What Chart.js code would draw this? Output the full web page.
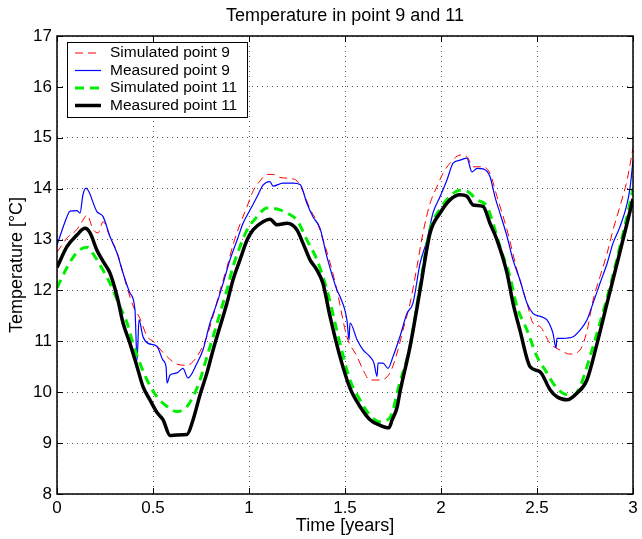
<!DOCTYPE html>
<html>
<head>
<meta charset="UTF-8">
<title>Temperature in point 9 and 11</title>
<script src="https://cdn.jsdelivr.net/npm/chart.js"></script>
<style>
  body { margin: 0; background: #fff; }
  canvas { display: block; }
</style>
</head>
<body>
<canvas id="tempChart" width="642" height="539"></canvas>
<script>
    // values (time in years, temperature in °C)
    const sim9T = [0.0, 0.052, 0.104, 0.135, 0.156, 0.188, 0.214, 0.240, 0.276, 0.313, 0.354, 0.396, 0.432, 0.469, 0.5, 0.536, 0.573, 0.625, 0.677, 0.708, 0.745, 0.781, 0.813, 0.849, 0.885, 0.917, 0.953, 0.990, 1.021, 1.057, 1.094, 1.125, 1.161, 1.214, 1.25, 1.281, 1.318, 1.354, 1.385, 1.422, 1.458, 1.510, 1.563, 1.594, 1.630, 1.682, 1.734, 1.771, 1.802, 1.839, 1.875, 1.906, 1.943, 1.979, 2.010, 2.047, 2.099, 2.135, 2.167, 2.219, 2.255, 2.292, 2.344, 2.396, 2.448, 2.479, 2.516, 2.568, 2.620, 2.672, 2.724, 2.760, 2.792, 2.828, 2.865, 2.896, 2.932, 2.969, 3.0];
    const sim9V = [12.75, 13.03, 13.2, 13.38, 13.48, 13.2, 13.13, 13.35, 13.05, 12.75, 12.2, 11.7, 11.45, 11.1, 11.0, 10.85, 10.7, 10.55, 10.53, 10.6, 10.8, 11.1, 11.5, 12.0, 12.45, 12.9, 13.3, 13.65, 13.95, 14.15, 14.28, 14.28, 14.22, 14.2, 14.15, 13.95, 13.6, 13.35, 13.0, 12.55, 12.0, 11.09, 10.7, 10.44, 10.24, 10.24, 10.38, 10.77, 11.22, 11.75, 12.47, 13.13, 13.71, 14.04, 14.3, 14.5, 14.66, 14.63, 14.43, 14.43, 14.3, 13.84, 13.19, 12.4, 11.75, 11.36, 11.29, 10.96, 10.83, 10.75, 10.83, 11.2, 11.81, 12.27, 12.73, 13.19, 13.65, 14.17, 14.8];

    const meas9T = [0.0, 0.052, 0.068, 0.104, 0.120, 0.135, 0.151, 0.208, 0.240, 0.276, 0.313, 0.344, 0.380, 0.406, 0.417, 0.427, 0.448, 0.474, 0.521, 0.552, 0.568, 0.573, 0.589, 0.625, 0.656, 0.682, 0.729, 0.760, 0.797, 0.833, 0.865, 0.901, 0.938, 0.969, 1.005, 1.042, 1.073, 1.109, 1.125, 1.177, 1.229, 1.266, 1.302, 1.333, 1.370, 1.406, 1.458, 1.474, 1.510, 1.521, 1.526, 1.563, 1.594, 1.630, 1.651, 1.667, 1.672, 1.698, 1.724, 1.750, 1.786, 1.823, 1.854, 1.891, 1.927, 1.958, 1.995, 2.031, 2.063, 2.099, 2.135, 2.161, 2.188, 2.219, 2.255, 2.281, 2.307, 2.344, 2.375, 2.411, 2.448, 2.479, 2.516, 2.552, 2.583, 2.599, 2.604, 2.635, 2.688, 2.724, 2.760, 2.792, 2.828, 2.865, 2.896, 2.932, 2.969, 2.984, 3.0];
    const meas9V = [12.89, 13.45, 13.56, 13.57, 13.52, 13.88, 14.01, 13.55, 13.45, 13.06, 12.73, 12.34, 11.95, 11.62, 10.63, 11.42, 11.09, 10.96, 10.9, 10.63, 10.5, 10.18, 10.34, 10.38, 10.47, 10.28, 10.57, 10.83, 11.36, 11.75, 12.14, 12.6, 12.99, 13.32, 13.58, 13.84, 14.07, 14.14, 14.05, 14.11, 14.11, 14.08, 13.71, 13.45, 13.22, 12.66, 12.01, 11.88, 11.42, 11.03, 11.36, 11.03, 10.83, 10.7, 10.57, 10.31, 10.57, 10.57, 10.47, 10.7, 11.09, 11.55, 11.75, 12.53, 12.99, 13.52, 13.84, 14.17, 14.5, 14.56, 14.6, 14.33, 14.4, 14.39, 14.24, 13.84, 13.52, 13.06, 12.6, 12.21, 11.75, 11.55, 11.49, 11.42, 11.16, 10.87, 11.06, 11.06, 11.09, 11.22, 11.42, 11.75, 12.14, 12.53, 12.93, 13.25, 13.7, 14.0, 14.55];

    const sim11T = [0.0, 0.052, 0.104, 0.156, 0.188, 0.224, 0.276, 0.328, 0.365, 0.396, 0.432, 0.469, 0.521, 0.573, 0.625, 0.677, 0.708, 0.745, 0.781, 0.813, 0.849, 0.885, 0.917, 0.953, 0.990, 1.042, 1.094, 1.146, 1.198, 1.25, 1.302, 1.354, 1.406, 1.474, 1.526, 1.578, 1.630, 1.682, 1.734, 1.786, 1.839, 1.891, 1.943, 1.995, 2.047, 2.099, 2.135, 2.188, 2.240, 2.271, 2.307, 2.359, 2.396, 2.448, 2.5, 2.552, 2.583, 2.635, 2.688, 2.724, 2.776, 2.828, 2.880, 2.932, 2.984, 3.0];
    const sim11V = [12.05, 12.45, 12.75, 12.85, 12.72, 12.5, 12.14, 11.68, 11.36, 10.96, 10.57, 10.24, 9.91, 9.72, 9.62, 9.72, 9.91, 10.24, 10.7, 11.09, 11.55, 12.01, 12.47, 12.86, 13.19, 13.45, 13.62, 13.6, 13.52, 13.38, 12.99, 12.6, 12.01, 10.96, 10.24, 9.85, 9.55, 9.42, 9.5, 10.2, 10.9, 12.1, 13.2, 13.6, 13.85, 13.97, 13.95, 13.78, 13.65, 13.32, 12.86, 12.27, 11.68, 11.22, 10.7, 10.38, 10.18, 9.98, 9.94, 10.11, 10.7, 11.36, 12.07, 12.86, 13.71, 14.0];

    const meas11T = [0.0, 0.052, 0.104, 0.146, 0.172, 0.208, 0.240, 0.276, 0.313, 0.344, 0.380, 0.417, 0.448, 0.484, 0.521, 0.552, 0.589, 0.625, 0.677, 0.708, 0.745, 0.781, 0.813, 0.849, 0.885, 0.917, 0.953, 0.990, 1.021, 1.073, 1.109, 1.146, 1.198, 1.25, 1.281, 1.318, 1.354, 1.385, 1.422, 1.474, 1.526, 1.578, 1.630, 1.682, 1.729, 1.745, 1.771, 1.786, 1.839, 1.891, 1.943, 1.995, 2.047, 2.099, 2.135, 2.167, 2.219, 2.255, 2.292, 2.344, 2.375, 2.411, 2.464, 2.516, 2.568, 2.604, 2.656, 2.708, 2.760, 2.813, 2.865, 2.917, 2.969, 3.0];
    const meas11V = [12.45, 12.86, 13.09, 13.22, 13.13, 12.79, 12.57, 12.34, 11.88, 11.36, 10.96, 10.5, 10.11, 9.85, 9.6, 9.46, 9.15, 9.16, 9.17, 9.45, 9.95, 10.38, 10.83, 11.29, 11.75, 12.21, 12.6, 12.99, 13.19, 13.35, 13.4, 13.29, 13.32, 13.19, 12.93, 12.6, 12.4, 12.14, 11.49, 10.7, 10.08, 9.72, 9.46, 9.35, 9.3, 9.45, 9.7, 10.0, 10.9, 12.01, 13.13, 13.52, 13.78, 13.88, 13.85, 13.68, 13.65, 13.32, 12.99, 12.34, 11.75, 11.22, 10.5, 10.4, 10.05, 9.91, 9.85, 9.98, 10.24, 10.96, 11.75, 12.53, 13.32, 13.8];

    const seriesNames = ['Simulated point 9', 'Measured point 9', 'Simulated point 11', 'Measured point 11'];
    const xRange = [0, 3];
    const yRange = [8, 17];

    const FONT = "'Liberation Sans', Arial, Helvetica, sans-serif";

    function pts(t, v) {
        return t.map((x, i) => ({ x: x, y: v[i] }));
    }

    // black box with inward ticks on all four sides, plus title
    const frame = {
        id: 'frame',
        afterDraw(chart) {
            const { ctx, chartArea: a, scales: { x, y } } = chart;
            ctx.save();
            ctx.strokeStyle = '#000';
            ctx.lineWidth = 1;
            ctx.setLineDash([]);
            ctx.beginPath();
            x.ticks.forEach(t => {
                const px = Math.round(x.getPixelForValue(t.value)) + 0.5;
                ctx.moveTo(px, a.bottom); ctx.lineTo(px, a.bottom - 6);
                ctx.moveTo(px, a.top); ctx.lineTo(px, a.top + 6);
            });
            y.ticks.forEach(t => {
                const py = Math.round(y.getPixelForValue(t.value)) + 0.5;
                ctx.moveTo(a.left, py); ctx.lineTo(a.left + 6, py);
                ctx.moveTo(a.right, py); ctx.lineTo(a.right - 6, py);
            });
            ctx.stroke();
            ctx.lineWidth = 1.5;
            ctx.strokeRect(a.left, a.top, a.right - a.left, a.bottom - a.top);

            ctx.fillStyle = '#000';
            ctx.font = '18px ' + FONT;
            ctx.textAlign = 'center';
            ctx.textBaseline = 'middle';
            ctx.fillText('Temperature in point 9 and 11', (a.left + a.right) / 2, 16);
            ctx.restore();
        }
    };

    // legend box in the upper left corner of the plot
    const legendBox = {
        id: 'legendBox',
        afterDraw(chart) {
            const { ctx, chartArea: a } = chart;
            const bx = a.left + 10, by = a.top + 6, bw = 180, bh = 75;
            ctx.save();
            ctx.fillStyle = '#fff';
            ctx.fillRect(bx, by, bw, bh);
            ctx.strokeStyle = '#000';
            ctx.lineWidth = 1;
            ctx.setLineDash([]);
            ctx.strokeRect(bx + 0.5, by + 0.5, bw, bh);
            ctx.font = '15.5px ' + FONT;
            ctx.textBaseline = 'middle';
            chart.data.datasets.forEach((ds, i) => {
                const cy = by + 11 + i * 17.5;
                ctx.strokeStyle = ds.borderColor;
                ctx.lineWidth = ds.borderWidth;
                ctx.setLineDash(ds.borderDash || []);
                ctx.beginPath();
                ctx.moveTo(bx + 8, cy);
                ctx.lineTo(bx + 34, cy);
                ctx.stroke();
                ctx.setLineDash([]);
                ctx.fillStyle = '#000';
                ctx.fillText(ds.label, bx + 43, cy);
            });
            ctx.restore();
        }
    };

    const tickText = v => String(Number(v));

    new Chart(document.getElementById('tempChart'), {
        type: 'line',
        data: {
            datasets: [
                { label: seriesNames[0], data: pts(sim9T, sim9V), borderColor: '#ff0000', borderWidth: 1, borderDash: [8, 5], order: 4 },
                { label: seriesNames[1], data: pts(meas9T, meas9V), borderColor: '#0000ff', borderWidth: 1.2, order: 3 },
                { label: seriesNames[2], data: pts(sim11T, sim11V), borderColor: '#00ee00', borderWidth: 3, borderDash: [9, 6], order: 2 },
                { label: seriesNames[3], data: pts(meas11T, meas11V), borderColor: '#000000', borderWidth: 3.5, order: 1 }
            ]
        },
        options: {
            responsive: false,
            animation: false,
            layout: { padding: { top: 36, right: 9 } },
            elements: {
                point: { radius: 0 },
                line: { cubicInterpolationMode: 'monotone' }
            },
            scales: {
                x: {
                    type: 'linear',
                    min: xRange[0],
                    max: xRange[1],
                    afterFit: s => { s.height = 45; },
                    ticks: { stepSize: 0.5, padding: 4, color: '#000', font: { family: FONT, size: 17 }, maxRotation: 0, callback: tickText },
                    grid: { color: '#555', lineWidth: 1, tickLength: 0 },
                    border: { display: false, dash: [1, 4] },
                    title: { display: true, text: 'Time [years]', color: '#000', font: { family: FONT, size: 18 }, padding: { top: 0, bottom: 2 } }
                },
                y: {
                    min: yRange[0],
                    max: yRange[1],
                    afterFit: s => { s.width = 57; },
                    ticks: { stepSize: 1, padding: 5, color: '#000', font: { family: FONT, size: 17 }, callback: tickText },
                    grid: { color: '#555', lineWidth: 1, tickLength: 0 },
                    border: { display: false, dash: [1, 4] },
                    title: { display: true, text: 'Temperature [°C]', color: '#000', font: { family: FONT, size: 18 }, padding: { top: 6, bottom: 0 } }
                }
            },
            plugins: {
                legend: { display: false },
                tooltip: { enabled: false },
                title: { display: false }
            }
        },
        plugins: [frame, legendBox]
    });
</script>
</body>
</html>
